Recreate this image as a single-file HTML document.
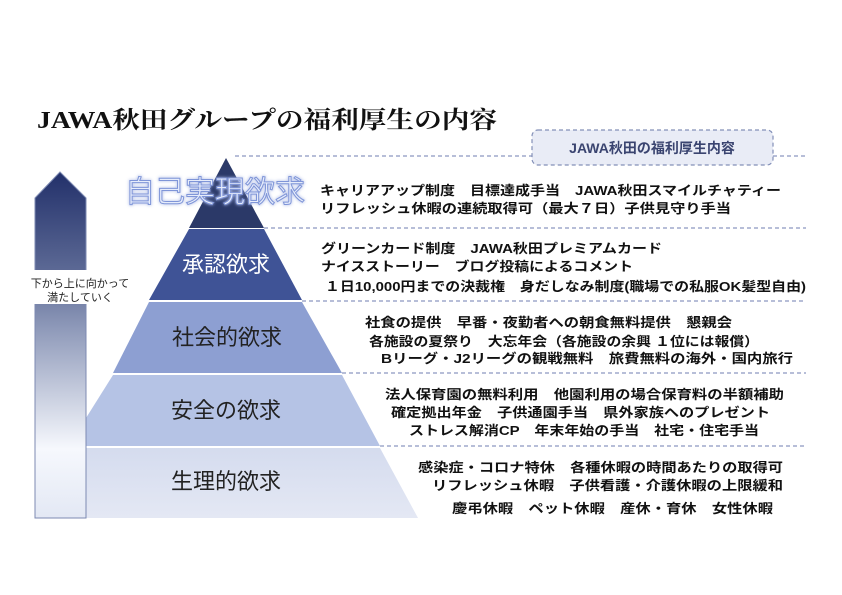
<!DOCTYPE html>
<html><head><meta charset="utf-8"><style>
html,body{margin:0;padding:0;background:#fff;}
svg{display:block;}
.b{font-family:"Liberation Sans","Noto Sans CJK JP",sans-serif;font-weight:bold;font-size:13px;fill:#111;}
.l{font-family:"Liberation Sans","Noto Sans CJK JP",sans-serif;font-size:22px;}
</style></head><body>
<svg width="842" height="595" viewBox="0 0 842 595" xmlns="http://www.w3.org/2000/svg">
<defs>
<linearGradient id="ar" x1="0" y1="172" x2="0" y2="518" gradientUnits="userSpaceOnUse">
<stop offset="0" stop-color="#22306a"/>
<stop offset="0.3" stop-color="#5f6c97"/>
<stop offset="0.45" stop-color="#8e99b9"/>
<stop offset="0.8" stop-color="#f6f8fd"/>
<stop offset="1" stop-color="#e3e8f4"/>
</linearGradient>
<linearGradient id="l5" x1="0" y1="446" x2="0" y2="518" gradientUnits="userSpaceOnUse">
<stop offset="0" stop-color="#d4dbee"/><stop offset="1" stop-color="#e4e8f4"/>
</linearGradient>
<filter id="gl"><feGaussianBlur stdDeviation="1.5" result="b"/><feMerge><feMergeNode in="b"/><feMergeNode in="SourceGraphic"/></feMerge></filter>
</defs>
<text x="37" y="128" font-family="'Liberation Serif','Noto Serif CJK SC',serif" font-weight="bold" font-size="24" textLength="460" lengthAdjust="spacingAndGlyphs" fill="#111">JAWA秋田グループの福利厚生の内容</text>

<g stroke="#8c98c0" stroke-width="1.2" stroke-dasharray="4,3">
<line x1="235" y1="156" x2="532" y2="156"/><line x1="773" y1="156" x2="806" y2="156"/>
<line x1="264" y1="228" x2="806" y2="228"/>
<line x1="302" y1="301" x2="806" y2="301"/>
<line x1="342" y1="373" x2="806" y2="373"/>
<line x1="380" y1="446" x2="806" y2="446"/>
</g>
<rect x="532" y="130" width="241" height="35" rx="6" fill="#e9ecf6" stroke="#8390b8" stroke-width="1.2" stroke-dasharray="4,3"/>
<text x="652" y="153" text-anchor="middle" class="b" style="fill:#3a4470;font-size:14px">JAWA秋田の福利厚生内容</text>

<polygon points="226,158 264,228 189,228" fill="#2b3968"/>
<polygon points="189,229 264,229 302,300 149,300" fill="#3f5396"/>
<polygon points="149,302 302,302 342,373 113,373" fill="#8d9fd2"/>
<polygon points="113,375 342,375 380,446 86,446 86,418" fill="#b5c3e5"/>
<polygon points="86,448 380,448 418,518 86,518" fill="url(#l5)"/>

<polygon points="60,172 86,198 86,518 35,518 35,198" fill="url(#ar)" stroke="#7d8ab2" stroke-width="1"/>
<rect x="20" y="270" width="120" height="34" fill="#fff"/>
<text x="80" y="287" text-anchor="middle" font-family="'Liberation Sans','Noto Sans CJK JP',sans-serif" font-size="11" fill="#222">下から上に向かって</text>
<text x="80" y="301" text-anchor="middle" font-family="'Liberation Sans','Noto Sans CJK JP',sans-serif" font-size="11" fill="#222">満たしていく</text>

<text x="215" y="202" text-anchor="middle" font-family="'Liberation Sans','Noto Sans CJK JP',sans-serif" font-size="30" fill="#e6ecfb" stroke="#7f95d8" stroke-width="1" textLength="180" lengthAdjust="spacingAndGlyphs" filter="url(#gl)">自己実現欲求</text>
<text x="226" y="272" text-anchor="middle" class="l" fill="#fff">承認欲求</text>
<text x="227" y="345" text-anchor="middle" class="l" fill="#222">社会的欲求</text>
<text x="226" y="418" text-anchor="middle" class="l" fill="#222">安全の欲求</text>
<text x="226" y="489" text-anchor="middle" class="l" fill="#222">生理的欲求</text>

<text class="b" x="320" y="195" textLength="461" lengthAdjust="spacingAndGlyphs">キャリアアップ制度　目標達成手当　JAWA秋田スマイルチャティー</text>
<text class="b" x="320" y="213" textLength="411" lengthAdjust="spacingAndGlyphs">リフレッシュ休暇の連続取得可（最大７日）子供見守り手当</text>
<text class="b" x="321" y="253" textLength="341" lengthAdjust="spacingAndGlyphs">グリーンカード制度　JAWA秋田プレミアムカード</text>
<text class="b" x="321" y="271" textLength="312" lengthAdjust="spacingAndGlyphs">ナイスストーリー　ブログ投稿によるコメント</text>
<text class="b" x="325" y="291" textLength="481" lengthAdjust="spacingAndGlyphs">１日10,000円までの決裁権　身だしなみ制度(職場での私服OK髪型自由)</text>
<text class="b" x="365" y="327" textLength="367" lengthAdjust="spacingAndGlyphs">社食の提供　早番・夜勤者への朝食無料提供　懇親会</text>
<text class="b" x="369" y="346" textLength="390" lengthAdjust="spacingAndGlyphs">各施設の夏祭り　大忘年会（各施設の余興 １位には報償）</text>
<text class="b" x="381" y="363" textLength="412" lengthAdjust="spacingAndGlyphs">Bリーグ・J2リーグの観戦無料　旅費無料の海外・国内旅行</text>
<text class="b" x="385" y="399" textLength="399" lengthAdjust="spacingAndGlyphs">法人保育園の無料利用　他園利用の場合保育料の半額補助</text>
<text class="b" x="391" y="417" textLength="379" lengthAdjust="spacingAndGlyphs">確定拠出年金　子供通園手当　県外家族へのプレゼント</text>
<text class="b" x="409" y="435" textLength="350" lengthAdjust="spacingAndGlyphs">ストレス解消CP　年末年始の手当　社宅・住宅手当</text>
<text class="b" x="418" y="472" textLength="365" lengthAdjust="spacingAndGlyphs">感染症・コロナ特休　各種休暇の時間あたりの取得可</text>
<text class="b" x="432" y="490" textLength="351" lengthAdjust="spacingAndGlyphs">リフレッシュ休暇　子供看護・介護休暇の上限緩和</text>
<text class="b" x="452" y="513" textLength="321" lengthAdjust="spacingAndGlyphs">慶弔休暇　ペット休暇　産休・育休　女性休暇</text>
</svg>
</body></html>
